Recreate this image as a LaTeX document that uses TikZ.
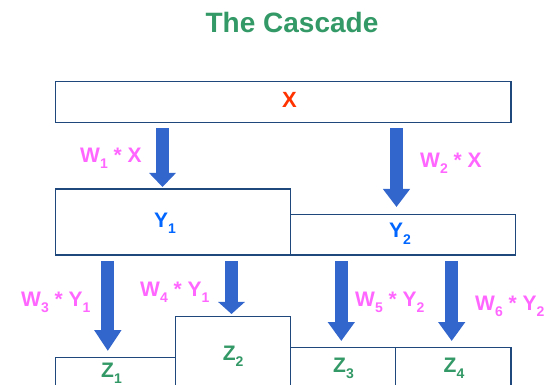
\documentclass[tikz,border=0pt]{standalone}
\usepackage{fontspec}
\setmainfont{Liberation Sans}
\usetikzlibrary{arrows.meta}
\definecolor{titlegreen}{RGB}{51,153,102}
\definecolor{xred}{RGB}{255,51,0}
\definecolor{yblue}{RGB}{0,102,255}
\definecolor{wpink}{RGB}{255,102,255}
\definecolor{arrowblue}{RGB}{51,102,204}
\definecolor{boxline}{RGB}{31,73,125}
\newcommand{\sbs}[1]{\raisebox{-6pt}{\fontsize{14}{14}\selectfont #1}}
\begin{document}
\begin{tikzpicture}[x=1pt,y=-1pt,
  box/.style={draw=boxline, line width=1.1pt, fill=white, inner sep=0pt, outer sep=0pt, anchor=north west},
  lab/.style={font=\fontsize{21}{21}\selectfont\bfseries, inner sep=0pt, anchor=base west},
  wlab/.style={lab, text=wpink},
  ylab/.style={lab, text=yblue},
  zlab/.style={lab, text=titlegreen},
  fat/.style={draw=arrowblue, line width=13pt, -{Triangle[width=26pt,length=#1]}},
]
\useasboundingbox (0,0) rectangle (555,385);
\clip (0,0) rectangle (555,385);

% title
\node[font=\fontsize{28}{28}\selectfont\bfseries, text=titlegreen, anchor=base, inner sep=0pt] (title) at (292,33) {The Cascade};

% boxes
\node[box, minimum width=455.2pt, minimum height=41.4pt] (X) at (55.8,81.3) {};
\node[box, minimum width=234.7pt, minimum height=66pt] (Y1) at (55.8,189) {};
\node[box, minimum width=225pt, minimum height=40.7pt] (Y2) at (290.5,214.3) {};
\node[box, minimum width=119.8pt, minimum height=40pt] (Z1) at (55.8,357.3) {};
\node[box, minimum width=114.9pt, minimum height=80pt] (Z2) at (175.6,316.3) {};
\node[box, minimum width=105.3pt, minimum height=50pt] (Z3) at (290.5,347.3) {};
\node[box, minimum width=115.2pt, minimum height=50pt] (Z4) at (395.8,347.3) {};

% box labels
\node[lab, anchor=base, text=xred, font=\fontsize{22}{22}\selectfont\bfseries] (xl) at (289.5,108) {X};
\node[ylab] (y1l) at (154,228) {Y\sbs{1}};
\node[ylab] (y2l) at (389,238) {Y\sbs{2}};
\node[zlab] (z1l) at (101,377.5) {Z\sbs{1}};
\node[zlab] (z2l) at (222.6,360) {Z\sbs{2}};
\node[zlab] (z3l) at (333,372) {Z\sbs{3}};
\node[zlab] (z4l) at (443.5,372) {Z\sbs{4}};

% weight labels
\node[wlab] (w1) at (80,163) {W\sbs{1} * X};
\node[wlab] (w2) at (420,168) {W\sbs{2} * X};
\node[wlab] (w3) at (21,306) {W\sbs{3} * Y\sbs{1}};
\node[wlab] (w4) at (140,296.5) {W\sbs{4} * Y\sbs{1}};
\node[wlab] (w5) at (355,306) {W\sbs{5} * Y\sbs{2}};
\node[wlab] (w6) at (475,310) {W\sbs{6} * Y\sbs{2}};

% arrows
\coordinate (a1s) at (162.5,128); \coordinate (a1e) at (162.5,187);
\coordinate (a2s) at (396.5,128); \coordinate (a2e) at (396.5,207);
\coordinate (a3s) at (107.8,261); \coordinate (a3e) at (107.8,351);
\coordinate (a4s) at (231.5,261); \coordinate (a4e) at (231.5,314);
\coordinate (a5s) at (341.3,261); \coordinate (a5e) at (341.3,341);
\coordinate (a6s) at (451.7,261); \coordinate (a6e) at (451.7,341);
\draw[fat=14pt] (a1s) -- (a1e);
\draw[fat=18pt] (a2s) -- (a2e);
\draw[fat=21pt] (a3s) -- (a3e);
\draw[fat=12pt] (a4s) -- (a4e);
\draw[fat=19pt] (a5s) -- (a5e);
\draw[fat=19pt] (a6s) -- (a6e);
\end{tikzpicture}
\end{document}
